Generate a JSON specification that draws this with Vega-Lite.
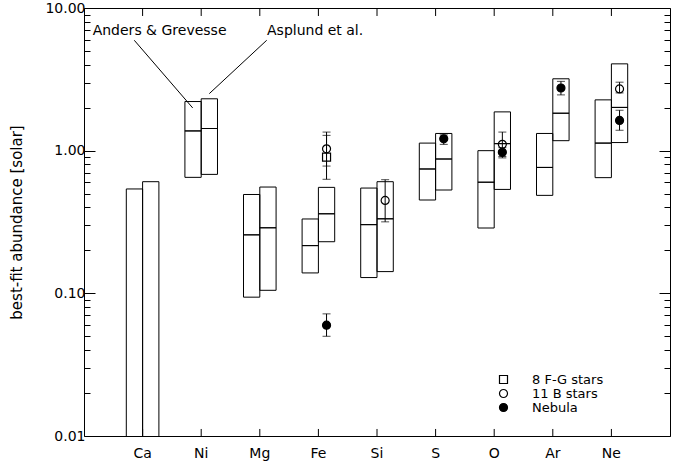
{
  "$schema": "https://vega.github.io/schema/vega-lite/v6.json",
  "width": 586,
  "height": 428,
  "autosize": {"type": "none"},
  "padding": {"left": 84, "top": 8, "right": 10, "bottom": 25},
  "background": "white",
  "config": {
    "view": {"stroke": "black", "strokeWidth": 1},
    "font": "DejaVu Sans",
    "axis": {"domain": false, "grid": false, "ticks": true, "labelFont": "DejaVu Sans", "labelFontSize": 14, "labelColor": "black", "tickColor": "black", "tickWidth": 1, "titleFont": "DejaVu Sans", "titleFontSize": 15, "titleFontWeight": "normal", "titleColor": "black"},
    "legend": {"labelFont": "DejaVu Sans", "labelFontSize": 13, "labelColor": "black"}
  },
  "datasets": {
    "elements": [
      {"el": "Ca"}, {"el": "Ni"}, {"el": "Mg"}, {"el": "Fe"}, {"el": "Si"}, {"el": "S"}, {"el": "O"}, {"el": "Ar"}, {"el": "Ne"}
    ],
    "boxes": [
      {"el": "Ca", "set": "AG", "lo": 0.001, "mid": null, "hi": 0.539},
      {"el": "Ca", "set": "Asplund", "lo": 0.001, "mid": null, "hi": 0.606},
      {"el": "Ni", "set": "AG", "lo": 0.650, "mid": 1.375, "hi": 2.21},
      {"el": "Ni", "set": "Asplund", "lo": 0.682, "mid": 1.43, "hi": 2.31},
      {"el": "Mg", "set": "AG", "lo": 0.094, "mid": 0.257, "hi": 0.493},
      {"el": "Mg", "set": "Asplund", "lo": 0.105, "mid": 0.288, "hi": 0.556},
      {"el": "Fe", "set": "AG", "lo": 0.139, "mid": 0.216, "hi": 0.332},
      {"el": "Fe", "set": "Asplund", "lo": 0.230, "mid": 0.361, "hi": 0.553},
      {"el": "Si", "set": "AG", "lo": 0.129, "mid": 0.303, "hi": 0.547},
      {"el": "Si", "set": "Asplund", "lo": 0.142, "mid": 0.333, "hi": 0.606},
      {"el": "S", "set": "AG", "lo": 0.451, "mid": 0.744, "hi": 1.13},
      {"el": "S", "set": "Asplund", "lo": 0.530, "mid": 0.874, "hi": 1.32},
      {"el": "O", "set": "AG", "lo": 0.287, "mid": 0.601, "hi": 1.00},
      {"el": "O", "set": "Asplund", "lo": 0.535, "mid": 1.12, "hi": 1.87},
      {"el": "Ar", "set": "AG", "lo": 0.486, "mid": 0.763, "hi": 1.32},
      {"el": "Ar", "set": "Asplund", "lo": 1.175, "mid": 1.83, "hi": 3.19},
      {"el": "Ne", "set": "AG", "lo": 0.647, "mid": 1.13, "hi": 2.27},
      {"el": "Ne", "set": "Asplund", "lo": 1.14, "mid": 2.01, "hi": 4.06}
    ],
    "points": [
      {"el": "Fe", "type": "8 F-G stars", "v": 0.90, "errlo": 0.63, "errhi": 1.28},
      {"el": "Fe", "type": "11 B stars", "v": 1.03, "errlo": 0.78, "errhi": 1.35},
      {"el": "Fe", "type": "Nebula", "v": 0.0598, "errlo": 0.050, "errhi": 0.0718},
      {"el": "Si", "type": "11 B stars", "v": 0.448, "errlo": 0.317, "errhi": 0.626},
      {"el": "S", "type": "Nebula", "v": 1.21, "errlo": 1.107, "errhi": 1.29},
      {"el": "O", "type": "11 B stars", "v": 1.107, "errlo": 0.91, "errhi": 1.35},
      {"el": "O", "type": "Nebula", "v": 0.973, "errlo": 0.89, "errhi": 1.05},
      {"el": "Ar", "type": "Nebula", "v": 2.75, "errlo": 2.46, "errhi": 3.06},
      {"el": "Ne", "type": "11 B stars", "v": 2.71, "errlo": 2.54, "errhi": 3.02},
      {"el": "Ne", "type": "Nebula", "v": 1.63, "errlo": 1.39, "errhi": 1.92}
    ],
    "leaders": [
      {"x": 0.858, "y": 5.94, "x2": 1.855, "y2": 1.993},
      {"x": 3.118, "y": 5.94, "x2": 2.138, "y2": 2.51}
    ],
    "labels": [
      {"x": 0.148, "y": 6.95, "label": "Anders & Grevesse"},
      {"x": 3.123, "y": 6.95, "label": "Asplund et al."}
    ]
  },
  "layer": [
    {
      "layer": [
        {
          "data": {"name": "boxes"},
          "mark": {"type": "bar", "fill": "transparent", "stroke": "black", "strokeWidth": 1, "clip": true},
          "encoding": {
            "x": {"field": "el", "type": "nominal", "sort": null,
              "scale": {"type": "band", "domain": ["Ca", "Ni", "Mg", "Fe", "Si", "S", "O", "Ar", "Ne"], "paddingInner": 0.444, "paddingOuter": 0.722},
              "axis": {"orient": "bottom", "title": null, "labelAngle": 0, "ticks": false, "tickSize": 0, "labelPadding": 10}},
            "xOffset": {"field": "set", "type": "nominal", "scale": {"domain": ["AG", "Asplund"], "paddingInner": 0, "paddingOuter": 0}},
            "y": {"field": "lo", "type": "quantitative",
              "scale": {"type": "log", "domain": [0.01, 10], "nice": false},
              "axis": {"orient": "left", "title": "best-fit abundance [solar]", "titlePadding": 20,
                "values": [0.01,0.02,0.03,0.04,0.05,0.06,0.07,0.08,0.09,0.1,0.2,0.3,0.4,0.5,0.6,0.7,0.8,0.9,1,2,3,4,5,6,7,8,9,10],
                "format": ".2f",
                "labelExpr": "indexof([0.01,0.1,1,10], datum.value) >= 0 ? datum.label : ''",
                "tickSize": {"condition": {"test": "indexof([0.01,0.1,1,10], datum.value) >= 0", "value": -11}, "value": -6},
                "labelPadding": 10}},
            "y2": {"field": "hi"}
          }
        },
        {
          "data": {"name": "boxes"},
          "mark": {"type": "bar", "fill": "transparent", "stroke": "black", "strokeWidth": 1},
          "encoding": {
            "x": {"field": "el", "type": "nominal", "sort": null, "axis": null},
            "xOffset": {"field": "set", "type": "nominal"},
            "y": {"field": "mid", "type": "quantitative",
              "axis": {"orient": "right", "title": null, "labels": false,
                "values": [0.01,0.02,0.03,0.04,0.05,0.06,0.07,0.08,0.09,0.1,0.2,0.3,0.4,0.5,0.6,0.7,0.8,0.9,1,2,3,4,5,6,7,8,9,10],
                "tickSize": {"condition": {"test": "indexof([0.01,0.1,1,10], datum.value) >= 0", "value": -11}, "value": -6}}},
            "y2": {"field": "mid"}
          }
        },
        {
          "data": {"name": "elements"},
          "mark": {"type": "rule", "color": "black", "strokeWidth": 1},
          "encoding": {
            "x": {"field": "el", "type": "nominal", "sort": null, "axis": null},
            "y": {"datum": 0.01, "type": "quantitative", "axis": null},
            "y2": {"datum": 0.0112}
          }
        },
        {
          "data": {"name": "elements"},
          "mark": {"type": "rule", "color": "black", "strokeWidth": 1},
          "encoding": {
            "x": {"field": "el", "type": "nominal", "sort": null, "axis": null},
            "y": {"datum": 10, "type": "quantitative", "axis": null},
            "y2": {"datum": 8.79}
          }
        },
        {
          "data": {"name": "points"},
          "mark": {"type": "rule", "color": "black", "strokeWidth": 1},
          "encoding": {
            "x": {"field": "el", "type": "nominal", "sort": null, "axis": null},
            "xOffset": {"datum": "Asplund"},
            "y": {"field": "errlo", "type": "quantitative", "axis": null},
            "y2": {"field": "errhi"}
          }
        },
        {
          "data": {"name": "points"},
          "mark": {"type": "tick", "orient": "horizontal", "size": 8, "thickness": 1, "color": "black"},
          "encoding": {
            "x": {"field": "el", "type": "nominal", "sort": null, "axis": null},
            "xOffset": {"datum": "Asplund"},
            "y": {"field": "errlo", "type": "quantitative", "axis": null}
          }
        },
        {
          "data": {"name": "points"},
          "mark": {"type": "tick", "orient": "horizontal", "size": 8, "thickness": 1, "color": "black"},
          "encoding": {
            "x": {"field": "el", "type": "nominal", "sort": null, "axis": null},
            "xOffset": {"datum": "Asplund"},
            "y": {"field": "errhi", "type": "quantitative", "axis": null}
          }
        },
        {
          "data": {"name": "points"},
          "mark": {"type": "point", "size": 64, "strokeWidth": 1.2, "opacity": 1},
          "encoding": {
            "x": {"field": "el", "type": "nominal", "sort": null, "axis": null},
            "xOffset": {"datum": "Asplund"},
            "y": {"field": "v", "type": "quantitative", "axis": null},
            "shape": {"field": "type", "type": "nominal",
              "scale": {"domain": ["8 F-G stars", "11 B stars", "Nebula"], "range": ["square", "circle", "circle"]},
              "legend": {"orient": "none", "legendX": 413, "legendY": 365, "title": null, "symbolSize": 64, "symbolStrokeWidth": 1.2, "rowPadding": 0, "labelOffset": 22, "padding": 0}},
            "fill": {"field": "type", "type": "nominal",
              "scale": {"domain": ["8 F-G stars", "11 B stars", "Nebula"], "range": ["transparent", "transparent", "black"]},
              "legend": {"orient": "none", "legendX": 413, "legendY": 365, "title": null, "symbolSize": 64, "symbolStrokeWidth": 1.2, "rowPadding": 0, "labelOffset": 22, "padding": 0}},
            "stroke": {"field": "type", "type": "nominal",
              "scale": {"domain": ["8 F-G stars", "11 B stars", "Nebula"], "range": ["black", "black", "black"]},
              "legend": {"orient": "none", "legendX": 413, "legendY": 365, "title": null, "symbolSize": 64, "symbolStrokeWidth": 1.2, "rowPadding": 0, "labelOffset": 22, "padding": 0}}
          }
        }
      ],
      "resolve": {"axis": {"x": "independent", "y": "independent"}}
    },
    {
      "layer": [
        {
          "data": {"name": "leaders"},
          "mark": {"type": "rule", "color": "black", "strokeWidth": 1},
          "encoding": {
            "x": {"field": "x", "type": "quantitative", "scale": {"domain": [0, 10], "nice": false, "zero": false}, "axis": null},
            "y": {"field": "y", "type": "quantitative", "scale": {"type": "log"}, "axis": null},
            "x2": {"field": "x2"},
            "y2": {"field": "y2"}
          }
        },
        {
          "data": {"name": "labels"},
          "mark": {"type": "text", "align": "left", "baseline": "middle", "fontSize": 14, "font": "DejaVu Sans", "color": "black"},
          "encoding": {
            "x": {"field": "x", "type": "quantitative", "axis": null},
            "y": {"field": "y", "type": "quantitative", "axis": null},
            "text": {"field": "label"}
          }
        }
      ]
    }
  ],
  "resolve": {"scale": {"x": "independent"}, "axis": {"x": "independent", "y": "independent"}}
}
